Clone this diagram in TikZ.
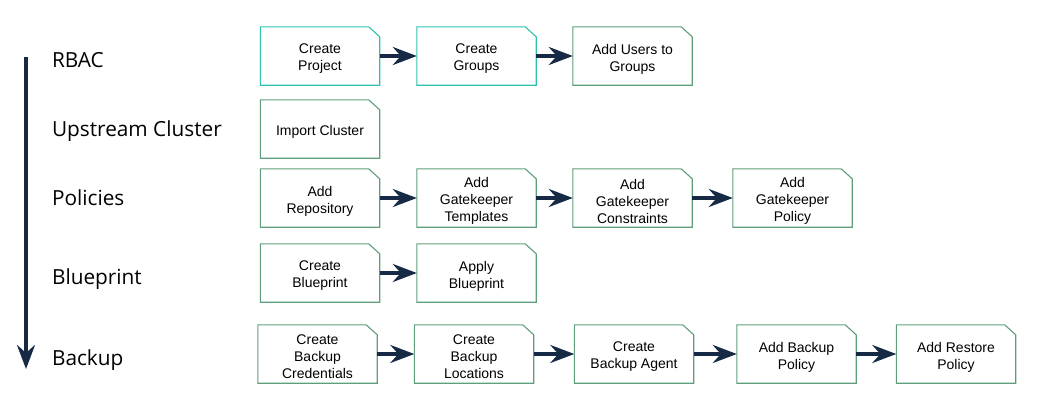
\documentclass[tikz,border=0pt]{standalone}
\usepackage{fontspec}
\setmainfont{Liberation Sans}
\newfontfamily\stagefont{Open Sans}
\usetikzlibrary{arrows.meta}
\definecolor{tealline}{HTML}{2EC2AB}
\definecolor{greenline}{HTML}{5E9E7A}
\definecolor{navy}{HTML}{172A45}
\tikzset{
  cardtext/.style={align=center, yshift=-3pt, inner sep=0pt, font=\fontsize{14}{17}\selectfont},
  card/.style={rectangle, minimum width=119pt, minimum height=58pt,
    inner sep=0pt, label={[cardtext]center:{#1}}},
  cardline/.style={draw=greenline, line width=1.1pt, line join=miter},
  stage/.style={anchor=west, font=\stagefont\fontsize{20.8}{23}\selectfont},
  flow/.style={-{Stealth[length=24pt, width=18pt, inset=8pt]}, line width=3.6pt, draw=navy}
}
\begin{document}
\begin{tikzpicture}[x=1pt, y=-1pt]
  \useasboundingbox (0,0) rectangle (1045,418);
  % Zeitachse links
  \draw[flow] (26,57) -- (26,369);
  \node[stage] (rbac) at (48.5,60) {RBAC};
  \node[stage] (upstream) at (48.5,131) {Upstream Cluster};
  \node[stage] (policies) at (48.5,198) {Policies};
  \node[stage] (blueprint) at (48.5,279) {Blueprint};
  \node[stage] (backup) at (48.5,360) {Backup};
  % RBAC
  \node[card={Create\\Project}] (project) at (320,56) {};
  \node[card={Create\\Groups}] (groups) at (476.5,56) {};
  \node[card={Add Users to\\Groups}] (users) at (632.5,56) {};
  % Upstream Cluster
  \node[card={Import Cluster}] (import) at (320,129) {};
  % Policies
  \node[card={Add\\Repository}] (repo) at (320,198) {};
  \node[card={Add\\Gatekeeper\\Templates}] (templates) at (476.5,198) {};
  \node[card={Add\\Gatekeeper\\Constraints}] (constraints) at (632.5,198) {};
  \node[card={Add\\Gatekeeper\\Policy}] (gkpolicy) at (792.5,198) {};
  % Blueprint
  \node[card={Create\\Blueprint}] (mkblueprint) at (320,273) {};
  \node[card={Apply\\Blueprint}] (applyblueprint) at (476.5,273) {};
  % Backup
  \node[card={Create\\Backup\\Credentials}] (creds) at (317.5,354) {};
  \node[card={Create\\Backup\\Locations}] (locations) at (474,354) {};
  \node[card={Create\\Backup Agent}] (agent) at (634,354) {};
  \node[card={Add Backup\\Policy}] (bkpolicy) at (796.5,354) {};
  \node[card={Add Restore\\Policy}] (restore) at (956,354) {};
  % Umrisse mit abgeschnittener Ecke
  \foreach \n/\c in {project/tealline, groups/tealline, users/greenline, import/greenline,
      repo/greenline, templates/greenline, constraints/greenline, gkpolicy/greenline,
      mkblueprint/greenline, applyblueprint/greenline, creds/greenline, locations/greenline,
      agent/greenline, bkpolicy/greenline, restore/greenline}
    \draw[cardline, draw=\c] (\n.north west) -- ([xshift=-11pt]\n.north east)
      -- ([yshift=-10pt]\n.north east) -- (\n.south east) -- (\n.south west) -- cycle;
  % Pfeile
  \draw[flow] (project) -- (groups);
  \draw[flow] (groups) -- (users);
  \draw[flow] (repo) -- (templates);
  \draw[flow] (templates) -- (constraints);
  \draw[flow] (constraints) -- (gkpolicy);
  \draw[flow] (mkblueprint) -- (applyblueprint);
  \draw[flow] (creds) -- (locations);
  \draw[flow] (locations) -- (agent);
  \draw[flow] (agent) -- (bkpolicy);
  \draw[flow] (bkpolicy) -- (restore);
\end{tikzpicture}
\end{document}
